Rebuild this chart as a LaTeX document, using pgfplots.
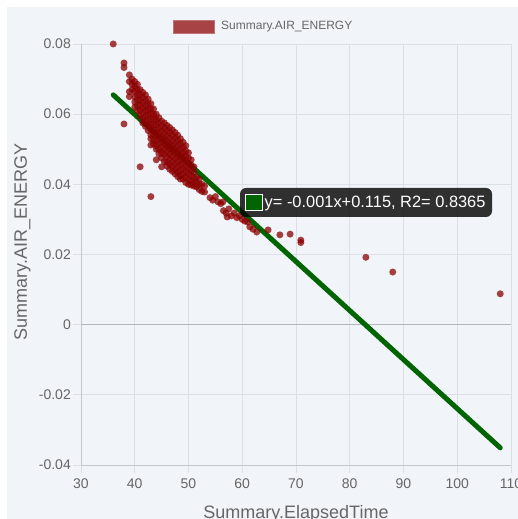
\documentclass[border=0pt]{standalone}
\usepackage{fontspec}
\setmainfont{Liberation Sans}
\usepackage{pgfplots}
\pgfplotsset{compat=1.18}
\definecolor{bg}{RGB}{241,244,249}
\definecolor{gridc}{RGB}{221,224,229}
\definecolor{axisc}{RGB}{196,198,203}
\definecolor{zeroc}{RGB}{180,182,187}
\definecolor{ptc}{RGB}{139,0,0}
\definecolor{linec}{RGB}{0,100,0}
\definecolor{txt}{RGB}{102,102,102}

\pgfplotstableread{
x y
36 0.0800
38 0.0746
38 0.0733
38 0.0572
39 0.0712
39 0.0693
39 0.0664
39 0.0650
39.5 0.0700
39.5 0.0685
39.5 0.0670
40 0.0693
40 0.0680
40 0.0665
40 0.0650
40 0.0635
40 0.0620
40.5 0.0685
40.5 0.0670
40.5 0.0655
40.5 0.0640
40.5 0.0625
40.5 0.0610
41 0.0670
41 0.0655
41 0.0640
41 0.0625
41 0.0610
41 0.0595
41 0.0450
41.5 0.0662
41.5 0.0648
41.5 0.0633
41.5 0.0618
41.5 0.0603
41.5 0.0588
41.5 0.0575
42 0.0655
42 0.0640
42 0.0625
42 0.0610
42 0.0595
42 0.0580
42 0.0565
42.5 0.0643
42.5 0.0628
42.5 0.0613
42.5 0.0598
42.5 0.0583
42.5 0.0568
42.5 0.0553
43 0.0630
43 0.0615
43 0.0600
43 0.0585
43 0.0570
43 0.0555
43 0.0540
43 0.0530
43 0.0512
43 0.0365
43.5 0.0615
43.5 0.0600
43.5 0.0585
43.5 0.0570
43.5 0.0555
43.5 0.0540
43.5 0.0525
43.5 0.0515
44 0.0600
44 0.0585
44 0.0570
44 0.0555
44 0.0540
44 0.0525
44 0.0510
44 0.0500
44 0.0470
44.5 0.0590
44.5 0.0575
44.5 0.0560
44.5 0.0545
44.5 0.0530
44.5 0.0515
44.5 0.0500
44.5 0.0487
45 0.0580
45 0.0565
45 0.0550
45 0.0535
45 0.0520
45 0.0505
45 0.0490
45 0.0475
45 0.0450
45.5 0.0575
45.5 0.0560
45.5 0.0545
45.5 0.0530
45.5 0.0515
45.5 0.0500
45.5 0.0485
45.5 0.0465
46 0.0568
46 0.0553
46 0.0538
46 0.0523
46 0.0508
46 0.0493
46 0.0478
46 0.0463
46 0.0452
46.5 0.0562
46.5 0.0547
46.5 0.0532
46.5 0.0517
46.5 0.0502
46.5 0.0487
46.5 0.0472
46.5 0.0457
46.5 0.0443
47 0.0555
47 0.0540
47 0.0525
47 0.0510
47 0.0495
47 0.0480
47 0.0465
47 0.0450
47 0.0437
47.5 0.0548
47.5 0.0533
47.5 0.0518
47.5 0.0503
47.5 0.0488
47.5 0.0473
47.5 0.0458
47.5 0.0443
47.5 0.0430
48 0.0540
48 0.0525
48 0.0510
48 0.0495
48 0.0480
48 0.0465
48 0.0450
48 0.0435
48 0.0422
48.5 0.0530
48.5 0.0515
48.5 0.0500
48.5 0.0485
48.5 0.0470
48.5 0.0455
48.5 0.0440
48.5 0.0425
48.5 0.0415
49 0.0520
49 0.0505
49 0.0490
49 0.0475
49 0.0460
49 0.0445
49 0.0430
49 0.0415
49.5 0.0510
49.5 0.0495
49.5 0.0480
49.5 0.0465
49.5 0.0450
49.5 0.0435
49.5 0.0420
49.5 0.0405
50 0.0490
50 0.0475
50 0.0460
50 0.0445
50 0.0430
50 0.0415
50 0.0400
50.5 0.0470
50.5 0.0455
50.5 0.0440
50.5 0.0425
50.5 0.0410
50.5 0.0398
51 0.0450
51 0.0435
51 0.0420
51 0.0405
51 0.0395
51.5 0.0420
51.5 0.0405
51.5 0.0393
52 0.0415
52 0.0400
52 0.0385
52.5 0.0400
52.5 0.0380
53 0.0395
53 0.0378
54 0.0362
54.5 0.0355
55 0.0365
55.5 0.0350
56 0.0345
56.4 0.0350
56.5 0.0325
57 0.0318
57.2 0.0307
57.5 0.0330
58 0.0310
58.5 0.0318
59 0.0305
59.5 0.0310
60 0.0300
60.5 0.0295
61 0.0293
61.4 0.0279
62 0.0272
62.7 0.0264
64.8 0.0270
67 0.0256
68.9 0.0258
70.9 0.0241
70.9 0.0234
83 0.0192
88 0.0150
108 0.0088
}\pts

\begin{document}
\begin{tikzpicture}
\path[use as bounding box] (0pt,0pt) rectangle (518pt,519pt);
\fill[white] (0pt,0pt) rectangle (518pt,519pt);
\fill[bg] (7pt,0pt) rectangle (518pt,512pt);
\begin{axis}[
  at={(81pt,54pt)}, anchor=south west,
  width=430pt, height=421pt, scale only axis,
  xmin=30, xmax=110, ymin=-0.04, ymax=0.08,
  scaled x ticks=false, scaled y ticks=false,
  xtick={30,40,...,110}, xticklabels={30,40,50,60,70,80,90,100,110},
  ytick={-0.04,-0.02,0,0.02,0.04,0.06,0.08},
  yticklabels={-0.04,-0.02,0,0.02,0.04,0.06,0.08},
  grid=major, major grid style={gridc, line width=0.8pt},
  axis x line*=bottom, axis y line*=left,
  axis line style={axisc, line width=0.8pt, -},
  tick align=outside, major tick length=8pt,
  tick style={gridc, line width=0.8pt},
  ticklabel style={text=txt, font=\fontsize{14}{16}\selectfont, inner sep=0pt},
  xticklabel style={anchor=north, yshift=-6pt},
  yticklabel style={anchor=east, xshift=-2pt},
  extra y ticks={0}, extra y tick labels={},
  extra y tick style={grid=major, major grid style={zeroc, line width=0.9pt}, major tick length=0pt},
  clip=false,
]
\addplot[only marks, color=ptc, mark=*, mark size=3.5pt,
  mark options={solid, draw opacity=0, fill=ptc, fill opacity=0.75}] table[x=x,y=y] {\pts};
\addplot[linec, line width=5pt, line cap=round] coordinates {(36,0.0655) (108,-0.0351)};
\end{axis}
% legend
\filldraw[fill=ptc, fill opacity=0.72, draw=ptc!55, line width=0.8pt] (173pt,485.7pt) rectangle (214.3pt,498.3pt);
\node[anchor=west, inner sep=0pt, text=txt, font=\fontsize{12}{14}\selectfont] at (221pt,492pt) {Summary.AIR\_ENERGY};
% tooltip
\fill[black, opacity=0.8, rounded corners=6pt] (240pt,302pt) rectangle (492pt,331pt);
\filldraw[fill=linec, draw=white, line width=1pt] (245pt,308pt) rectangle (262pt,324pt);
\node[anchor=west, text=white, font=\fontsize{16.4}{19}\selectfont, inner sep=0pt] at (264.5pt,315.5pt) {y= -0.001x+0.115, R2= 0.8365};
% axis titles
\node[anchor=base, inner sep=0pt, text=txt, font=\fontsize{18}{21}\selectfont] at (296pt,1pt) {Summary.ElapsedTime};
\node[rotate=90, inner sep=0pt, text=txt, font=\fontsize{18}{21}\selectfont] at (22.5pt,277pt) {Summary.AIR\_ENERGY};
\end{tikzpicture}
\end{document}
